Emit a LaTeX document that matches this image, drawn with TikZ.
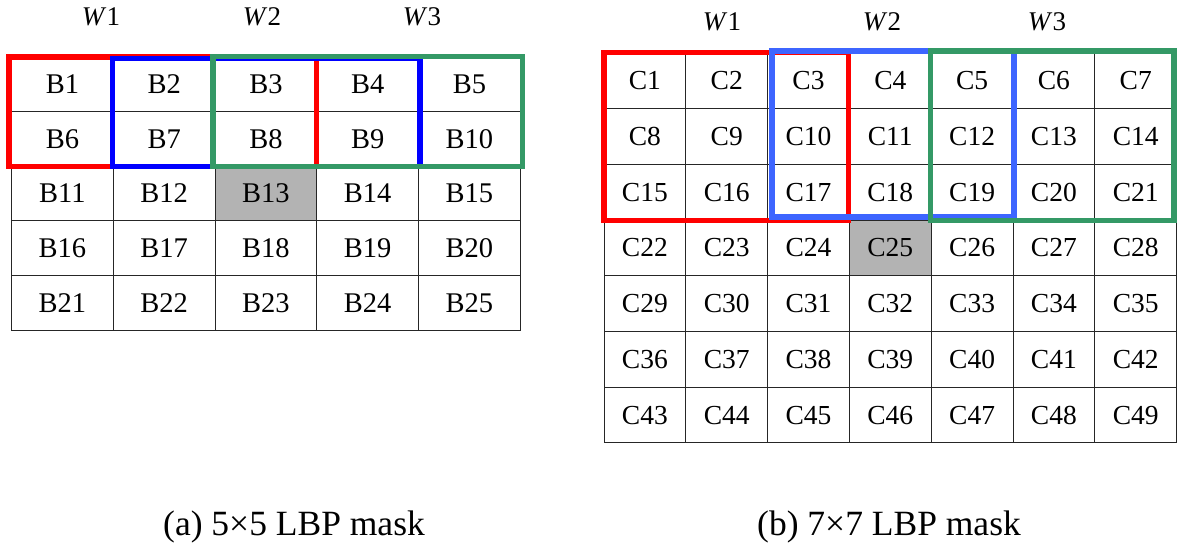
\documentclass[tikz,border=0pt]{standalone}
\usepackage{fontspec}
\setmainfont{Liberation Serif}
\definecolor{winred}{RGB}{255,0,0}
\definecolor{winblue}{RGB}{0,0,255}
\definecolor{winblueb}{RGB}{61,101,255}
\definecolor{wingreen}{RGB}{52,153,102}
\definecolor{cellgray}{RGB}{179,179,179}
\begin{document}
\begin{tikzpicture}[x=1pt,y=-1pt,
  cellb/.style={draw=black!85, line width=0.9pt, inner sep=0pt, outer sep=0pt,
    minimum width=101.76pt, minimum height=54.6pt, font=\fontsize{28.5}{30}\selectfont},
  cellc/.style={draw=black!85, line width=0.9pt, inner sep=0pt, outer sep=0pt,
    minimum width=81.8pt, minimum height=55.7pt, font=\fontsize{27.5}{30}\selectfont},
  winbox/.style={line width=5.3pt, line join=miter},
  wlabel/.style={font=\fontsize{27}{30}\selectfont, inner sep=0pt},
  caption/.style={font=\fontsize{35.5}{40}\selectfont, inner sep=0pt}]
\useasboundingbox[fill=white] (0,0) rectangle (1182,552);

% 5x5 mask
\foreach \r in {0,...,4} {
  \foreach \c in {0,...,4} {
    \pgfmathtruncatemacro\n{\r*5+\c+1}
    \def\fc{white}
    \ifnum\n=13 \def\fc{cellgray}\fi
    \node[cellb, fill=\fc] (B\n) at ({11.5+101.76*(\c+0.5)},{57+54.6*(\r+0.5)}) {B\n};
  }
}

% 7x7 mask
\foreach \r in {0,...,6} {
  \foreach \c in {0,...,6} {
    \pgfmathtruncatemacro\n{\r*7+\c+1}
    \def\fc{white}
    \ifnum\n=25 \def\fc{cellgray}\fi
    \node[cellc, fill=\fc] (C\n) at ({604+81.8*(\c+0.5)},{53+55.7*(\r+0.5)}) {C\n};
  }
}

% windows on the 5x5 mask
\draw[winbox, draw=winred]   ([shift={(-2.5,0)}]B1.north west) rectangle (B8.south east);
\draw[winbox, draw=winblue]  ([shift={(-1,1.5)}]B2.north west) rectangle ([shift={(1.5,0.5)}]B9.south east);
\draw[winbox, draw=wingreen] ([shift={(-2,-0.3)}]B3.north west) rectangle ([shift={(2,0.5)}]B10.south east);

% windows on the 7x7 mask
\draw[winbox, draw=winred]   ([shift={(0,-0.5)}]C1.north west) rectangle ([shift={(-1,0.5)}]C17.south east);
\draw[winbox, draw=winblueb] ([shift={(4.5,-2)}]C3.north west) rectangle ([shift={(1,-3)}]C19.south east);
\draw[winbox, draw=wingreen] ([shift={(-1,-2)}]C5.north west) rectangle ([shift={(-2.5,0.5)}]C21.south east);

% window labels
\node[wlabel] (lw1) at (101,17) {\textit{W}1};
\node[wlabel] (lw2) at (262,17) {\textit{W}2};
\node[wlabel] (lw3) at (422,17) {\textit{W}3};
\node[wlabel] (rw1) at (722,22) {\textit{W}1};
\node[wlabel] (rw2) at (882,22) {\textit{W}2};
\node[wlabel] (rw3) at (1047,22) {\textit{W}3};

% captions
\node[caption] (capa) at (294,527) {(a) 5×5 LBP mask};
\node[caption] (capb) at (889,527) {(b) 7×7 LBP mask};
\end{tikzpicture}
\end{document}
